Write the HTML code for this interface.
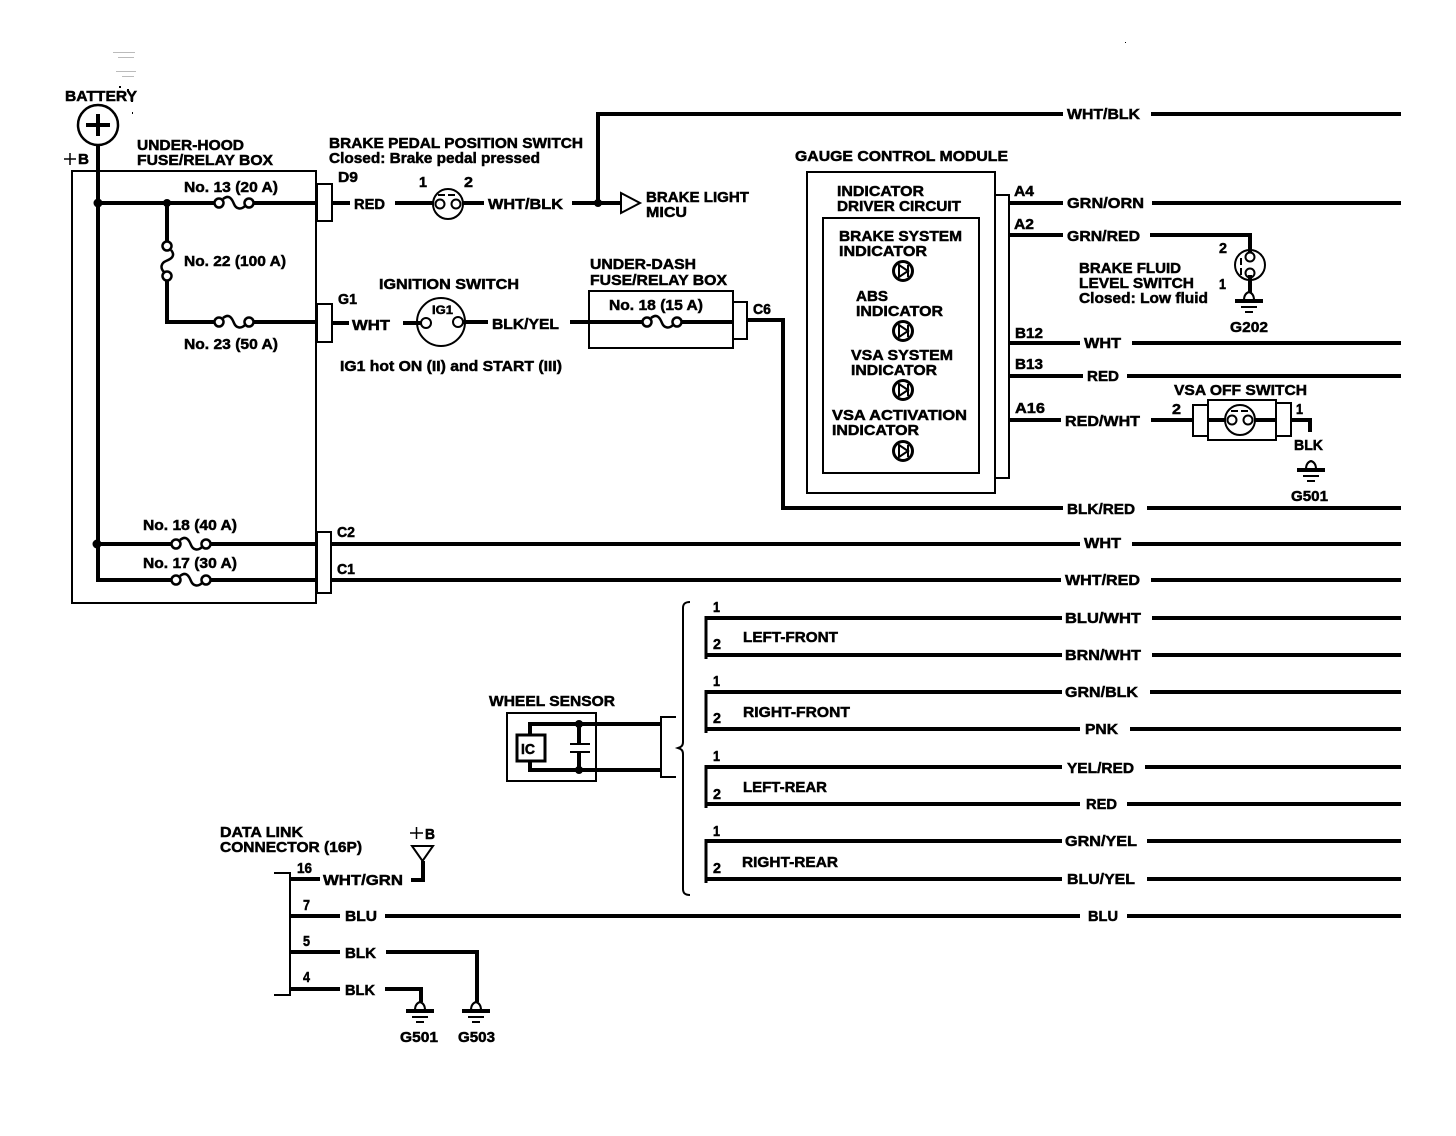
<!DOCTYPE html>
<html><head><meta charset="utf-8"><title>Brake system wiring diagram</title>
<style>
html,body{margin:0;padding:0;background:#fff}
svg{display:block}
text{font-family:"Liberation Sans",sans-serif;font-weight:bold;font-size:15px;fill:#000;stroke:#000;stroke-width:.5px}
.s{font-size:14px}
.w{fill:none;stroke:#000;stroke-width:4}
.b{fill:none;stroke:#000;stroke-width:2}
.f{fill:#fff;stroke:#000;stroke-width:2}
.t{fill:none;stroke:#000;stroke-width:1.5}
</style></head><body>
<svg width="1456" height="1136" viewBox="0 0 1456 1136" xmlns="http://www.w3.org/2000/svg" xmlns:xlink="http://www.w3.org/1999/xlink">
<defs>
<g id="fuse"><path class="t" style="stroke-width:2.500" d="M5-4C11-9 14-4 16 1C18 6 23 7 27 3"/><circle class="f" style="stroke-width:2.500" cx="1" cy="0" r="4.500"/><circle class="f" style="stroke-width:2.500" cx="31" cy="0" r="4.500"/></g>
<g id="gnd"><path d="M-14 9H14" stroke="#000" stroke-width="4"/><path d="M-8 15H8" stroke="#000" stroke-width="2"/><path d="M-4 20H4" stroke="#000" stroke-width="2"/><path class="f" d="M-5 8C-5 3-3 1 0 0C3 1 5 3 5 8Z"/></g>
<g id="led"><circle class="b" cx="0" cy="0" r="9.500" style="stroke-width:3"/><path class="b" d="M-4-6L5 0L-4 6Z"/><path class="b" d="M5-6V6"/></g>
<g id="sw"><circle class="b" cx="0" cy="0" r="15"/><circle class="f" cx="-8" cy="0" r="4.500"/><circle class="f" cx="8" cy="0" r="4.500"/><path class="b" d="M-10-9H10" style="stroke-dasharray:7 3"/></g>
</defs>

<!-- Specks -->
<g fill="#bbb"><rect x="113" y="52" width="22" height="1"/><rect x="118" y="57" width="16" height="1"/><rect x="116" y="71" width="20" height="1"/><rect x="122" y="76" width="12" height="1"/></g>
<g fill="#000"><rect x="119" y="86" width="2" height="2"/><rect x="127" y="89" width="2" height="2"/><rect x="131" y="100" width="2" height="2"/><rect x="132" y="112" width="1" height="2"/><rect x="1125" y="42" width="1" height="1"/></g>

<!-- Battery and under-hood box -->
<text x="65" y="101" textLength="72" lengthAdjust="spacingAndGlyphs">BATTERY</text>
<circle class="b" cx="98" cy="125" r="20" style="stroke-width:2.500"/>
<path d="M98 114V136M86 125H110" stroke="#000" stroke-width="4" fill="none"/>
<path class="t" d="M64 159H76M70 153V165"/>
<text x="78" y="164" textLength="11" lengthAdjust="spacingAndGlyphs">B</text>
<text x="137" y="150" textLength="107" lengthAdjust="spacingAndGlyphs">UNDER-HOOD</text>
<text x="137" y="165" textLength="136" lengthAdjust="spacingAndGlyphs">FUSE/RELAY BOX</text>
<rect class="b" x="72" y="171" width="244" height="432"/>
<rect class="f" x="317" y="184" width="15" height="37"/>
<rect class="f" x="317" y="304" width="15" height="38"/>
<rect class="f" x="317" y="532" width="14" height="61"/>
<path class="w" d="M98 145V582M96 203H317M167 203V243M167 275V322H317M96 544H317M96 580H317"/>
<circle cx="98" cy="203" r="4.500"/><circle cx="167" cy="203" r="4"/><circle cx="97" cy="544" r="4.500"/>
<rect x="219" y="198" width="30" height="10" fill="#fff"/><use xlink:href="#fuse" x="218" y="203"/>
<rect x="219" y="317" width="30" height="10" fill="#fff"/><use xlink:href="#fuse" x="218" y="322"/>
<rect x="176" y="539" width="30" height="10" fill="#fff"/><use xlink:href="#fuse" x="175" y="544"/>
<rect x="176" y="575" width="30" height="10" fill="#fff"/><use xlink:href="#fuse" x="175" y="580"/>
<g transform="translate(167 245) rotate(90)"><use xlink:href="#fuse"/></g>
<text x="184" y="192" textLength="94" lengthAdjust="spacingAndGlyphs">No. 13 (20 A)</text>
<text x="184" y="266" textLength="102" lengthAdjust="spacingAndGlyphs">No. 22 (100 A)</text>
<text x="184" y="349" textLength="94" lengthAdjust="spacingAndGlyphs">No. 23 (50 A)</text>
<text x="143" y="530" textLength="94" lengthAdjust="spacingAndGlyphs">No. 18 (40 A)</text>
<text x="143" y="568" textLength="94" lengthAdjust="spacingAndGlyphs">No. 17 (30 A)</text>
<text x="338" y="182" textLength="20" lengthAdjust="spacingAndGlyphs">D9</text>
<text x="338" y="304" textLength="19" lengthAdjust="spacingAndGlyphs">G1</text>
<text x="337" y="537" textLength="18" lengthAdjust="spacingAndGlyphs">C2</text>
<text x="337" y="574" textLength="18" lengthAdjust="spacingAndGlyphs">C1</text>

<!-- Brake pedal switch -->
<text x="329" y="148" textLength="254" lengthAdjust="spacingAndGlyphs">BRAKE PEDAL POSITION SWITCH</text>
<text x="329" y="163" textLength="211" lengthAdjust="spacingAndGlyphs">Closed: Brake pedal pressed</text>
<path class="w" d="M332 203H350M395 203H434M462 203H484"/>
<text x="354" y="209" textLength="31" lengthAdjust="spacingAndGlyphs">RED</text>
<text x="419" y="187" textLength="8" lengthAdjust="spacingAndGlyphs">1</text>
<text x="464" y="187" textLength="9" lengthAdjust="spacingAndGlyphs">2</text>
<use xlink:href="#sw" x="448" y="204"/>
<text x="488" y="209" textLength="75" lengthAdjust="spacingAndGlyphs">WHT/BLK</text>
<path class="w" d="M572 203H622M598 203V114H1063M1151 114H1401"/>
<circle cx="598" cy="203" r="4"/>
<path class="f" d="M621 193L640 203L621 213Z"/>
<text x="646" y="202" textLength="103" lengthAdjust="spacingAndGlyphs">BRAKE LIGHT</text>
<text x="646" y="217" textLength="41" lengthAdjust="spacingAndGlyphs">MICU</text>
<text x="1067" y="119" textLength="73" lengthAdjust="spacingAndGlyphs">WHT/BLK</text>

<!-- Ignition -->
<text x="379" y="289" textLength="140" lengthAdjust="spacingAndGlyphs">IGNITION SWITCH</text>
<path class="w" d="M332 323H349M403 323H422M462 322H488"/>
<text x="352" y="330" textLength="38" lengthAdjust="spacingAndGlyphs">WHT</text>
<circle class="b" cx="441" cy="322" r="24"/>
<circle class="f" cx="426" cy="323" r="5"/><circle class="f" cx="458" cy="322" r="5"/>
<text class="s" x="432" y="314" textLength="21" lengthAdjust="spacingAndGlyphs" style="font-size:12px">IG1</text>
<text x="492" y="329" textLength="67" lengthAdjust="spacingAndGlyphs">BLK/YEL</text>
<text x="340" y="371" textLength="222" lengthAdjust="spacingAndGlyphs">IG1 hot ON (II) and START (III)</text>

<!-- Under-dash -->
<text x="590" y="269" textLength="106" lengthAdjust="spacingAndGlyphs">UNDER-DASH</text>
<text x="590" y="285" textLength="137" lengthAdjust="spacingAndGlyphs">FUSE/RELAY BOX</text>
<rect class="b" x="589" y="291" width="144" height="57"/>
<rect class="f" x="733" y="302" width="14" height="37"/>
<text x="609" y="310" textLength="94" lengthAdjust="spacingAndGlyphs">No. 18 (15 A)</text>
<path class="w" d="M570 322H733"/>
<rect x="647" y="317" width="30" height="10" fill="#fff"/><use xlink:href="#fuse" x="646" y="322"/>
<text x="753" y="314" textLength="18" lengthAdjust="spacingAndGlyphs">C6</text>
<path class="w" d="M747 320H783V508H1063M1147 508H1401"/>
<text x="1067" y="514" textLength="68" lengthAdjust="spacingAndGlyphs">BLK/RED</text>

<!-- Gauge control module -->
<text x="795" y="161" textLength="213" lengthAdjust="spacingAndGlyphs">GAUGE CONTROL MODULE</text>
<rect class="b" x="807" y="172" width="188" height="321"/>
<rect class="f" x="995" y="195" width="14" height="283"/>
<rect class="b" x="823" y="218" width="156" height="255"/>
<text x="837" y="196" textLength="87" lengthAdjust="spacingAndGlyphs">INDICATOR</text>
<text x="837" y="211" textLength="124" lengthAdjust="spacingAndGlyphs">DRIVER CIRCUIT</text>
<text x="839" y="241" textLength="123" lengthAdjust="spacingAndGlyphs">BRAKE SYSTEM</text>
<text x="839" y="256" textLength="88" lengthAdjust="spacingAndGlyphs">INDICATOR</text>
<use xlink:href="#led" x="903" y="271"/>
<text x="856" y="301" textLength="32" lengthAdjust="spacingAndGlyphs">ABS</text>
<text x="856" y="316" textLength="87" lengthAdjust="spacingAndGlyphs">INDICATOR</text>
<use xlink:href="#led" x="903" y="331"/>
<text x="851" y="360" textLength="102" lengthAdjust="spacingAndGlyphs">VSA SYSTEM</text>
<text x="851" y="375" textLength="86" lengthAdjust="spacingAndGlyphs">INDICATOR</text>
<use xlink:href="#led" x="903" y="390"/>
<text x="832" y="420" textLength="135" lengthAdjust="spacingAndGlyphs">VSA ACTIVATION</text>
<text x="832" y="435" textLength="87" lengthAdjust="spacingAndGlyphs">INDICATOR</text>
<use xlink:href="#led" x="903" y="451"/>

<text x="1014" y="196" textLength="20" lengthAdjust="spacingAndGlyphs">A4</text>
<text x="1014" y="229" textLength="20" lengthAdjust="spacingAndGlyphs">A2</text>
<text x="1015" y="338" textLength="28" lengthAdjust="spacingAndGlyphs">B12</text>
<text x="1015" y="369" textLength="28" lengthAdjust="spacingAndGlyphs">B13</text>
<text x="1015" y="413" textLength="30" lengthAdjust="spacingAndGlyphs">A16</text>
<path class="w" d="M1009 203H1063M1152 203H1401M1009 235H1063M1150 235H1250V255M1009 343H1080M1132 343H1401M1009 376H1083M1127 376H1401M1009 420H1061M1151 420H1193"/>
<text x="1067" y="208" textLength="77" lengthAdjust="spacingAndGlyphs">GRN/ORN</text>
<text x="1067" y="241" textLength="73" lengthAdjust="spacingAndGlyphs">GRN/RED</text>
<text x="1084" y="348" textLength="37" lengthAdjust="spacingAndGlyphs">WHT</text>
<text x="1087" y="381" textLength="32" lengthAdjust="spacingAndGlyphs">RED</text>
<text x="1065" y="426" textLength="75" lengthAdjust="spacingAndGlyphs">RED/WHT</text>

<!-- Brake fluid switch -->
<text x="1219" y="253" textLength="8" lengthAdjust="spacingAndGlyphs">2</text>
<text x="1219" y="289" textLength="7" lengthAdjust="spacingAndGlyphs">1</text>
<text x="1079" y="273" textLength="102" lengthAdjust="spacingAndGlyphs">BRAKE FLUID</text>
<text x="1079" y="288" textLength="115" lengthAdjust="spacingAndGlyphs">LEVEL SWITCH</text>
<text x="1079" y="303" textLength="129" lengthAdjust="spacingAndGlyphs">Closed: Low fluid</text>
<g transform="translate(1250 265) rotate(-90)"><use xlink:href="#sw"/></g>
<path class="w" d="M1250 275V294"/>
<use xlink:href="#gnd" x="1249" y="292"/>
<text x="1230" y="332" textLength="38" lengthAdjust="spacingAndGlyphs">G202</text>

<!-- VSA off switch -->
<text x="1174" y="395" textLength="133" lengthAdjust="spacingAndGlyphs">VSA OFF SWITCH</text>
<text x="1172" y="414" textLength="9" lengthAdjust="spacingAndGlyphs">2</text>
<text x="1296" y="414" textLength="7" lengthAdjust="spacingAndGlyphs">1</text>
<rect class="b" x="1208" y="400" width="68" height="40"/>
<rect class="f" x="1193" y="405" width="15" height="31"/>
<rect class="f" x="1276" y="403" width="15" height="33"/>
<path class="w" d="M1208 420H1276M1291 420H1310V432"/>
<circle class="f" cx="1240" cy="420" r="15"/>
<circle class="f" cx="1232" cy="420" r="4.500"/><circle class="f" cx="1248" cy="420" r="4.500"/>
<path class="b" d="M1231 411H1249" style="stroke-dasharray:7 3"/>
<text x="1294" y="450" textLength="29" lengthAdjust="spacingAndGlyphs">BLK</text>
<use xlink:href="#gnd" x="1311" y="461"/>
<text x="1291" y="501" textLength="37" lengthAdjust="spacingAndGlyphs">G501</text>

<!-- C2 and C1 -->
<path class="w" d="M331 544H1080M1132 544H1401M331 580H1061M1151 580H1401"/>
<text x="1084" y="548" textLength="37" lengthAdjust="spacingAndGlyphs">WHT</text>
<text x="1065" y="585" textLength="75" lengthAdjust="spacingAndGlyphs">WHT/RED</text>

<!-- Wheel sensor -->
<text x="489" y="706" textLength="126" lengthAdjust="spacingAndGlyphs">WHEEL SENSOR</text>
<rect class="b" x="507" y="713" width="89" height="68"/>
<path class="w" d="M530 735V724H661M530 761V770H661M579 724V744M579 752V770"/>
<circle cx="579" cy="724" r="4"/><circle cx="579" cy="770" r="4"/>
<path class="b" d="M570 744H590M570 752H590"/>
<rect class="f" x="517" y="735" width="28" height="26" style="stroke-width:3"/>
<text x="521" y="754" textLength="14" lengthAdjust="spacingAndGlyphs">IC</text>
<path class="b" d="M676 717H661V777H676"/>
<path class="b" d="M690 602C685 602 683 604 683 608V742C683 746 681 747 678 748C681 749 683 750 683 754V889C683 893 685 895 690 895"/>

<path class="b" d="M706 616V659M706 690V733M706 765V808M706 839V883" style="stroke-width:3"/>
<path class="w" d="M706 618H1062M1152 618H1401M706 655H1062M1152 655H1401M706 692H1062M1150 692H1401M706 729H1080M1130 729H1401M706 767H1062M1145 767H1401M706 804H1080M1127 804H1401M706 841H1062M1147 841H1401M706 879H1062M1147 879H1401"/>
<text x="713" y="612" textLength="7" lengthAdjust="spacingAndGlyphs">1</text>
<text x="713" y="649" textLength="8" lengthAdjust="spacingAndGlyphs">2</text>
<text x="713" y="686" textLength="7" lengthAdjust="spacingAndGlyphs">1</text>
<text x="713" y="723" textLength="8" lengthAdjust="spacingAndGlyphs">2</text>
<text x="713" y="761" textLength="7" lengthAdjust="spacingAndGlyphs">1</text>
<text x="713" y="799" textLength="8" lengthAdjust="spacingAndGlyphs">2</text>
<text x="713" y="836" textLength="7" lengthAdjust="spacingAndGlyphs">1</text>
<text x="713" y="873" textLength="8" lengthAdjust="spacingAndGlyphs">2</text>
<text x="743" y="642" textLength="95" lengthAdjust="spacingAndGlyphs">LEFT-FRONT</text>
<text x="743" y="717" textLength="107" lengthAdjust="spacingAndGlyphs">RIGHT-FRONT</text>
<text x="743" y="792" textLength="84" lengthAdjust="spacingAndGlyphs">LEFT-REAR</text>
<text x="742" y="867" textLength="96" lengthAdjust="spacingAndGlyphs">RIGHT-REAR</text>
<text x="1065" y="623" textLength="76" lengthAdjust="spacingAndGlyphs">BLU/WHT</text>
<text x="1065" y="660" textLength="76" lengthAdjust="spacingAndGlyphs">BRN/WHT</text>
<text x="1065" y="697" textLength="73" lengthAdjust="spacingAndGlyphs">GRN/BLK</text>
<text x="1085" y="734" textLength="33" lengthAdjust="spacingAndGlyphs">PNK</text>
<text x="1067" y="773" textLength="67" lengthAdjust="spacingAndGlyphs">YEL/RED</text>
<text x="1086" y="809" textLength="31" lengthAdjust="spacingAndGlyphs">RED</text>
<text x="1065" y="846" textLength="72" lengthAdjust="spacingAndGlyphs">GRN/YEL</text>
<text x="1067" y="884" textLength="68" lengthAdjust="spacingAndGlyphs">BLU/YEL</text>

<!-- Data link connector -->
<text x="220" y="837" textLength="83" lengthAdjust="spacingAndGlyphs">DATA LINK</text>
<text x="220" y="852" textLength="142" lengthAdjust="spacingAndGlyphs">CONNECTOR (16P)</text>
<path class="b" d="M274 873H290V995H274"/>
<path class="w" d="M290 879H320M411 880H423V861M290 916H340M385 916H1080M1127 916H1401M290 952H340M386 952H477V1002M290 989H340M385 989H421V1002"/>
<path class="b" d="M412 846H433L422.500 861Z"/>
<path class="t" d="M410 833H423M416.500 827V839"/>
<text x="425" y="839" textLength="10" lengthAdjust="spacingAndGlyphs">B</text>
<text x="297" y="873" textLength="15" lengthAdjust="spacingAndGlyphs">16</text>
<text x="303" y="910" textLength="7" lengthAdjust="spacingAndGlyphs">7</text>
<text x="303" y="946" textLength="7" lengthAdjust="spacingAndGlyphs">5</text>
<text x="303" y="982" textLength="7" lengthAdjust="spacingAndGlyphs">4</text>
<text x="323" y="885" textLength="80" lengthAdjust="spacingAndGlyphs">WHT/GRN</text>
<text x="345" y="921" textLength="32" lengthAdjust="spacingAndGlyphs">BLU</text>
<text x="345" y="958" textLength="31" lengthAdjust="spacingAndGlyphs">BLK</text>
<text x="345" y="995" textLength="30" lengthAdjust="spacingAndGlyphs">BLK</text>
<text x="1088" y="921" textLength="30" lengthAdjust="spacingAndGlyphs">BLU</text>
<use xlink:href="#gnd" x="420" y="1002"/>
<use xlink:href="#gnd" x="476" y="1002"/>
<text x="400" y="1042" textLength="38" lengthAdjust="spacingAndGlyphs">G501</text>
<text x="458" y="1042" textLength="37" lengthAdjust="spacingAndGlyphs">G503</text>
</svg>
</body></html>
